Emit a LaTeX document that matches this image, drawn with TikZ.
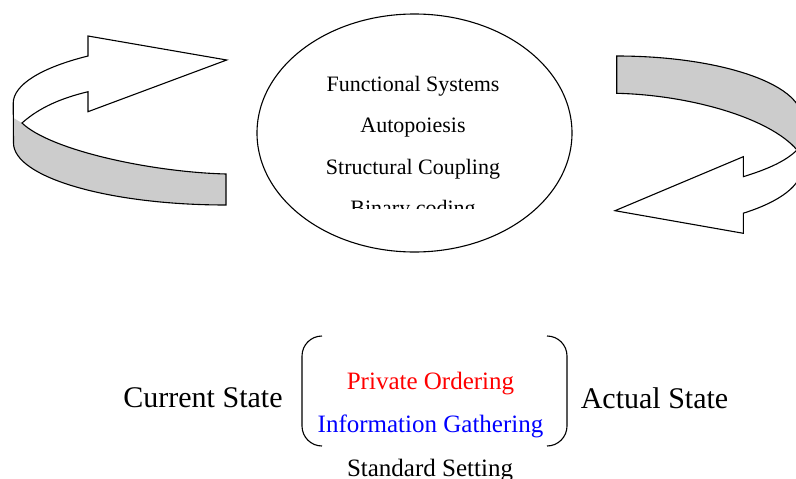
\documentclass[tikz,border=0pt]{standalone}
\usepackage{fontspec}
\setmainfont{Liberation Serif}
\usetikzlibrary{shapes}

\begin{document}
\begin{tikzpicture}[x=1pt,y=-1pt,line width=1.1pt,
  band/.style={fill=black!20},
  insys/.style={anchor=base,font=\fontsize{22}{26}\selectfont},
  mid/.style={anchor=base,font=\fontsize{25}{30}\selectfont},
  big/.style={anchor=base,font=\fontsize{30}{36}\selectfont}]
  \useasboundingbox (0,0) rectangle (796,479);
  \clip (0,0) rectangle (796,479);

  \fill[band] (13.5,118) -- (13.5,143) arc[start angle=180,end angle=90,x radius=212.5,y radius=62]
    -- (226,174) .. controls (150,172) and (50,150) .. (22,123) -- cycle;
  \draw (88,56) arc[start angle=229.6,end angle=180,x radius=212.5,y radius=62]
    -- (13.5,143) arc[start angle=180,end angle=90,x radius=212.5,y radius=62]
    -- (226,174) .. controls (150,172) and (50,150) .. (22,123)
    .. controls (40,107) and (62,98) .. (88,91.7) -- (88,111.7) -- (226.7,60) -- (88,36) -- cycle;

  \fill[band] (616.7,56) arc[start angle=270,end angle=360,x radius=185,y radius=62]
    -- (801.7,150) -- (797,150) .. controls (770,118) and (690,95) .. (616.7,93.3) -- cycle;
  \draw (616.7,56) arc[start angle=270,end angle=360,x radius=185,y radius=62]
    -- (801.7,168) arc[start angle=0,end angle=46.8,x radius=185,y radius=62]
    -- (743.3,233.3) -- (615,210.7) -- (743.3,156.7) -- (743.3,176.7)
    .. controls (765,170) and (785,162) .. (797,150)
    .. controls (770,118) and (690,95) .. (616.7,93.3) -- cycle;

  \node[draw,ellipse,minimum width=315,minimum height=238] (sys) at (414.5,133) {};
  \begin{scope}
    \clip (300,40) rectangle (530,208.3);
    \foreach \t/\y [count=\i] in {Functional Systems/91.5, Autopoiesis/132.5,
        Structural Coupling/174, Binary coding/215.5}
      \node[insys] (s\i) at (413,\y) {\t};
  \end{scope}

  \node[big] (cur) at (203,407) {Current State};
  \node[big] (act) at (654.5,408) {Actual State};
  \node[mid,red] (po) at (430.5,389) {Private Ordering};
  \node[mid,blue] (ig) at (430.5,432.5) {Information Gathering};
  \node[mid] (ss) at (430,476.5) {Standard Setting};

  \draw[rounded corners=20] (322,336) -- (302,336) -- (302,446) -- (322,446);
  \draw[rounded corners=20] (547,336) -- (567,336) -- (567,446) -- (547,446);
\end{tikzpicture}
\end{document}
